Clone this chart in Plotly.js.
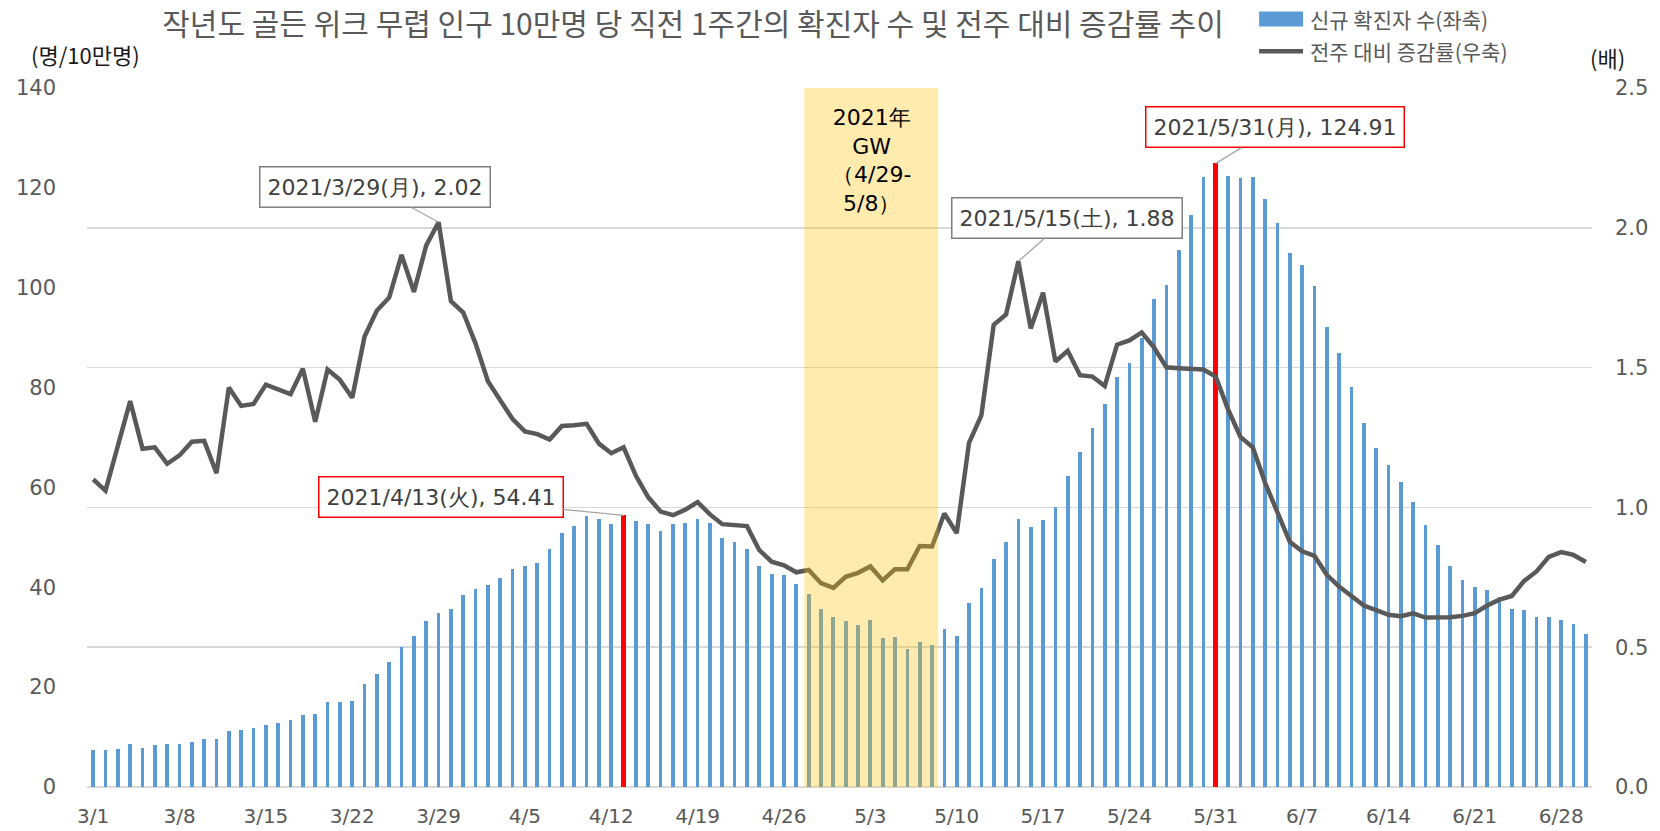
<!DOCTYPE html>
<html>
<head>
<meta charset="utf-8">
<script src="https://cdn.plot.ly/plotly-3.0.1.min.js"></script>
<style>html,body{margin:0;padding:0;background:#fff;}#chart{width:1660px;height:831px;}</style>
</head>
<body>
<div id="chart"></div>
<script>
const dates = [
'2021-03-01','2021-03-02','2021-03-03','2021-03-04','2021-03-05','2021-03-06','2021-03-07','2021-03-08','2021-03-09','2021-03-10',
'2021-03-11','2021-03-12','2021-03-13','2021-03-14','2021-03-15','2021-03-16','2021-03-17','2021-03-18','2021-03-19','2021-03-20',
'2021-03-21','2021-03-22','2021-03-23','2021-03-24','2021-03-25','2021-03-26','2021-03-27','2021-03-28','2021-03-29','2021-03-30','2021-03-31',
'2021-04-01','2021-04-02','2021-04-03','2021-04-04','2021-04-05','2021-04-06','2021-04-07','2021-04-08','2021-04-09','2021-04-10',
'2021-04-11','2021-04-12','2021-04-13','2021-04-14','2021-04-15','2021-04-16','2021-04-17','2021-04-18','2021-04-19','2021-04-20',
'2021-04-21','2021-04-22','2021-04-23','2021-04-24','2021-04-25','2021-04-26','2021-04-27','2021-04-28','2021-04-29','2021-04-30',
'2021-05-01','2021-05-02','2021-05-03','2021-05-04','2021-05-05','2021-05-06','2021-05-07','2021-05-08','2021-05-09','2021-05-10',
'2021-05-11','2021-05-12','2021-05-13','2021-05-14','2021-05-15','2021-05-16','2021-05-17','2021-05-18','2021-05-19','2021-05-20',
'2021-05-21','2021-05-22','2021-05-23','2021-05-24','2021-05-25','2021-05-26','2021-05-27','2021-05-28','2021-05-29','2021-05-30','2021-05-31',
'2021-06-01','2021-06-02','2021-06-03','2021-06-04','2021-06-05','2021-06-06','2021-06-07','2021-06-08','2021-06-09','2021-06-10',
'2021-06-11','2021-06-12','2021-06-13','2021-06-14','2021-06-15','2021-06-16','2021-06-17','2021-06-18','2021-06-19','2021-06-20',
'2021-06-21','2021-06-22','2021-06-23','2021-06-24','2021-06-25','2021-06-26','2021-06-27','2021-06-28','2021-06-29','2021-06-30'
];

// 신규 확진자 수 (인구 10만명 당 직전 1주간), left axis
const newCases = [
7.4,7.4,7.7,8.6,7.9,8.5,8.7,8.7,9.0,9.6,
9.6,11.3,11.5,11.8,12.5,12.8,13.4,14.4,14.7,17.0,
17.1,17.2,20.6,22.7,25.0,28.0,30.2,33.2,34.8,35.6,38.5,
39.6,40.5,41.9,43.6,44.2,44.9,47.7,50.8,52.3,54.2,
53.7,52.7,54.41,53.2,52.6,51.2,52.6,52.9,53.7,52.9,
49.9,49.0,47.7,44.2,42.6,42.4,40.6,38.7,35.6,34.0,
33.3,32.5,33.4,29.9,30.0,27.6,29.1,28.5,31.7,30.2,
36.8,39.9,45.6,49.1,53.7,52.0,53.5,56.0,62.2,67.1,
72.0,76.7,82.1,85.0,89.9,97.8,100.6,107.6,114.5,122.2,124.91,
122.3,122.0,122.2,117.8,112.9,106.9,104.5,100.3,92.2,86.9,
80.1,73.0,67.8,64.4,61.0,57.1,52.4,48.4,44.3,41.4,
40.1,39.4,38.1,35.7,35.5,34.1,34.1,33.5,32.6,30.6
];

// 전주 대비 증감률, right axis
const weeklyRatio = [
1.10,1.06,1.22,1.38,1.21,1.215,1.156,1.186,1.235,1.238,
1.122,1.429,1.363,1.370,1.439,1.424,1.405,1.496,1.306,1.493,
1.456,1.392,1.611,1.704,1.751,1.903,1.771,1.937,2.02,1.738,1.697,
1.586,1.451,1.383,1.316,1.272,1.262,1.243,1.291,1.294,1.299,
1.228,1.194,1.215,1.113,1.036,0.985,0.972,0.992,1.019,0.975,
0.940,0.935,0.933,0.847,0.806,0.793,0.768,0.776,0.729,0.712,
0.752,0.766,0.789,0.739,0.779,0.779,0.862,0.860,0.978,0.908,
1.231,1.329,1.653,1.690,1.88,1.640,1.768,1.522,1.560,1.473,
1.468,1.434,1.582,1.597,1.626,1.572,1.501,1.498,1.496,1.493,1.468,
1.350,1.252,1.215,1.088,0.978,0.877,0.843,0.827,0.759,0.717,
0.683,0.649,0.633,0.616,0.611,0.621,0.606,0.606,0.607,0.612,
0.622,0.649,0.670,0.683,0.737,0.771,0.823,0.840,0.830,0.805
];

const tickDates = ['2021-03-01','2021-03-08','2021-03-15','2021-03-22','2021-03-29','2021-04-05','2021-04-12','2021-04-19','2021-04-26',
'2021-05-03','2021-05-10','2021-05-17','2021-05-24','2021-05-31','2021-06-07','2021-06-14','2021-06-21','2021-06-28'];
const tickLabels = ['3/1','3/8','3/15','3/22','3/29','4/5','4/12','4/19','4/26','5/3','5/10','5/17','5/24','5/31','6/7','6/14','6/21','6/28'];

const highlightDates = ['2021-04-13','2021-05-31'];
const seriesNames = ['신규 확진자 수(좌축)','전주 대비 증감률(우축)'];
const chartTitle = '작년도 골든 위크 무렵 인구 10만명 당 직전 1주간의 확진자 수 및 전주 대비 증감률 추이';

const DAY = 86400000;
const barColors = dates.map(d => highlightDates.includes(d) ? '#FF0000' : '#5B9BD5');
const barWidths = dates.map(d => highlightDates.includes(d) ? 0.38 * DAY : 0.3 * DAY);

const KR = 'Noto Sans CJK KR, Noto Sans, sans-serif';
const VF = 'DejaVu Sans, Verdana, sans-serif';

const traces = [
  {
    type: 'bar', name: seriesNames[0], x: dates, y: newCases,
    marker: {color: barColors, line: {width: 0}}, width: barWidths,
    yaxis: 'y', showlegend: false
  },
  {
    type: 'scatter', mode: 'lines', name: seriesNames[1], x: dates, y: weeklyRatio,
    line: {color: '#595959', width: 4.5}, yaxis: 'y2', showlegend: false
  }
];

function idx(d){ return dates.indexOf(d); }

const boxFont = {family: VF, size: 22, color: '#404040'};
const annotations = [
  {x: '2021-03-29', y: weeklyRatio[idx('2021-03-29')], xref: 'x', yref: 'y2',
   text: '2021/3/29(月), 2.02', ax: -64, ay: -35, showarrow: true, arrowhead: 0,
   arrowcolor: '#A6A6A6', arrowwidth: 1.3, standoff: 0, font: boxFont,
   bgcolor: '#FFFFFF', bordercolor: '#7F7F7F', borderwidth: 1.5, borderpad: 7},
  {x: '2021-04-13', y: newCases[idx('2021-04-13')], xref: 'x', yref: 'y',
   text: '2021/4/13(火), 54.41', ax: -183, ay: -18, showarrow: true, arrowhead: 0,
   arrowcolor: '#A6A6A6', arrowwidth: 1.3, standoff: 0, font: boxFont,
   bgcolor: '#FFFFFF', bordercolor: '#FF0000', borderwidth: 1.5, borderpad: 7},
  {x: '2021-05-15', y: weeklyRatio[idx('2021-05-15')], xref: 'x', yref: 'y2',
   text: '2021/5/15(土), 1.88', ax: 49, ay: -43, showarrow: true, arrowhead: 0,
   arrowcolor: '#A6A6A6', arrowwidth: 1.3, standoff: 0, font: boxFont,
   bgcolor: '#FFFFFF', bordercolor: '#7F7F7F', borderwidth: 1.5, borderpad: 7},
  {x: '2021-05-31', y: newCases[idx('2021-05-31')], xref: 'x', yref: 'y',
   text: '2021/5/31(月), 124.91', ax: 59, ay: -36, showarrow: true, arrowhead: 0,
   arrowcolor: '#A6A6A6', arrowwidth: 1.3, standoff: 0, font: boxFont,
   bgcolor: '#FFFFFF', bordercolor: '#FF0000', borderwidth: 1.5, borderpad: 7},
  {x: '2021-05-03 02:00', y: 0.978, xref: 'x', yref: 'paper', yanchor: 'top', xanchor: 'center',
   text: '2021年<br>GW<br>（4/29-<br>5/8）', showarrow: false, align: 'center',
   font: {family: VF, size: 22, color: '#000000'}},
  {x: -0.0013, y: 1.0486, xref: 'paper', yref: 'paper', xanchor: 'center', yanchor: 'middle',
   text: '(명/10만명)', showarrow: false, font: {family: KR, size: 22, color: '#1a1a1a'}},
  {x: 1.0106, y: 1.0443, xref: 'paper', yref: 'paper', xanchor: 'center', yanchor: 'middle',
   text: '(배)', showarrow: false, font: {family: KR, size: 22, color: '#1a1a1a'}},
  // legend texts
  {x: 0.8113, y: 1.0990, xref: 'paper', yref: 'paper', xanchor: 'left', yanchor: 'middle',
   text: seriesNames[0], showarrow: false, font: {family: KR, size: 21, color: '#595959'}},
  {x: 0.8113, y: 1.0525, xref: 'paper', yref: 'paper', xanchor: 'left', yanchor: 'middle',
   text: seriesNames[1], showarrow: false, font: {family: KR, size: 21, color: '#595959'}}
];

const layout = {
  width: 1660, height: 831,
  margin: {l: 87, r: 68, t: 88, b: 44, pad: 0},
  paper_bgcolor: '#FFFFFF', plot_bgcolor: '#FFFFFF',
  title: {text: chartTitle, font: {family: KR, size: 30, color: '#595959'},
          x: 0.4175, xref: 'container', xanchor: 'center', y: 0.970, yref: 'container', yanchor: 'middle'},
  showlegend: false,
  xaxis: {type: 'date', range: ['2021-02-28 12:00', '2021-06-30 12:00'],
          tickvals: tickDates, ticktext: tickLabels, showgrid: false, zeroline: false, showline: false,
          ticks: '', tickfont: {family: VF, size: 20, color: '#595959'}, ticklabelstandoff: 15},
  yaxis: {range: [0, 140], dtick: 20, tick0: 0, showgrid: false, zeroline: false, showline: false,
          ticks: '', tickfont: {family: VF, size: 21, color: '#595959'}, ticklabelstandoff: 30},
  yaxis2: {range: [0, 2.5], dtick: 0.5, tick0: 0, tickformat: '.1f', overlaying: 'y', side: 'right',
           showgrid: true, gridcolor: '#D9D9D9', gridwidth: 1.5, zeroline: true, zerolinecolor: '#D9D9D9',
           zerolinewidth: 1.5, showline: false, ticks: '',
           tickfont: {family: VF, size: 21, color: '#595959'}, ticklabelstandoff: 22},
  shapes: [
    {type: 'rect', xref: 'x', yref: 'paper', x0: '2021-04-27 15:30', x1: '2021-05-08 12:00', y0: 0, y1: 1,
     fillcolor: 'rgba(255,192,0,0.32)', line: {width: 0}, layer: 'above'},
    // legend symbols
    {type: 'rect', xref: 'paper', yref: 'paper', x0: 0.7788, x1: 0.8080, y0: 1.0880, y1: 1.1095,
     fillcolor: '#5B9BD5', line: {width: 0}},
    {type: 'line', xref: 'paper', yref: 'paper', x0: 0.7788, x1: 0.8080, y0: 1.0525, y1: 1.0525,
     line: {color: '#595959', width: 4.5}}
  ],
  annotations: annotations,
  bargap: 0
};

Plotly.newPlot('chart', traces, layout, {displayModeBar: false, staticPlot: true});
</script>
</body>
</html>
